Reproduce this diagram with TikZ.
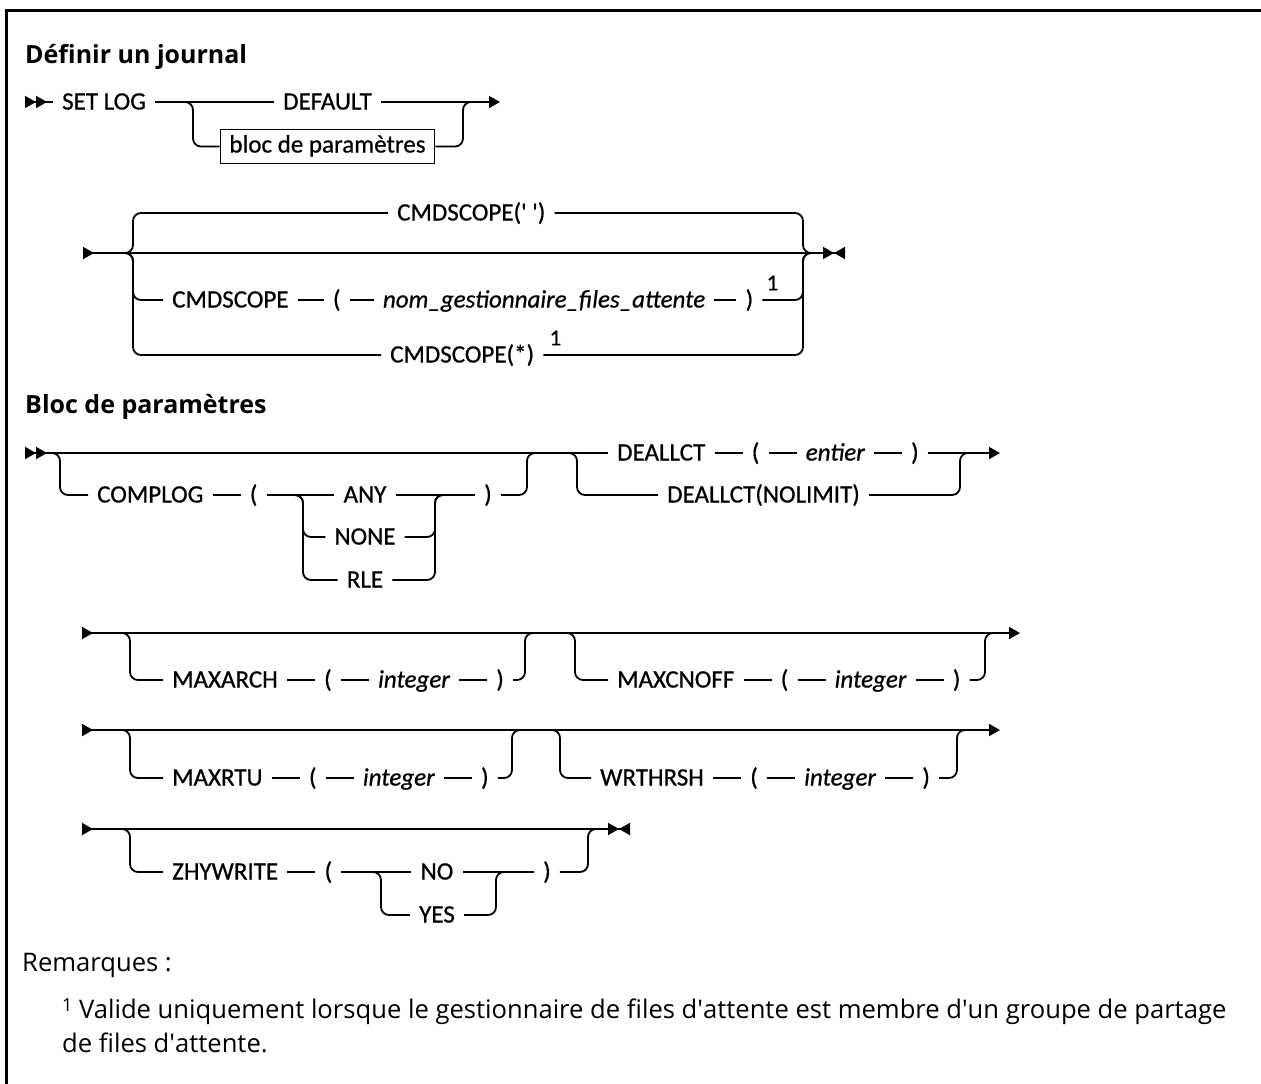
\documentclass[tikz,border=0pt]{standalone}
\usepackage{fontspec}
\setmainfont{Open Sans}
\newfontfamily\railfont{Carlito}[FakeBold=0.7]
\usetikzlibrary{positioning, arrows.meta}

\tikzset{
  kw/.style={font=\railfont\fontsize{25}{29}\selectfont, inner xsep=9pt, inner ysep=0pt, text height=15pt, text depth=0pt},
  vr/.style={kw, font=\railfont\itshape\fontsize{25}{29}\selectfont},
  fnum/.style={font=\railfont\fontsize{23}{23}\selectfont, inner sep=0pt},
  rail/.style={line width=1.8pt, rounded corners=8pt},
  hdg/.style={font=\bfseries\fontsize{25}{30}\selectfont, anchor=base west, inner sep=0pt},
  txt/.style={font=\fontsize{25.6}{30}\selectfont, anchor=base west, inner sep=0pt},
  blocbox/.style={kw, draw, line width=1.8pt, minimum width=209pt, minimum height=34pt, text height=16pt, text depth=4pt},
  arr begin/.style={{Triangle[length=11pt,width=12pt,reversed]Triangle[length=11pt,width=12pt,reversed]}-},
  arr cont/.style={{Triangle[length=11pt,width=12pt,reversed]}-{Triangle[length=11pt,width=12pt]}},
  arr next/.style={-{Triangle[length=11pt,width=12pt]}},
  arr cont stop/.style={{Triangle[length=11pt,width=12pt,reversed]}-{Triangle[length=11pt,width=12pt]Triangle[length=11pt,width=12pt,reversed]}},
}

\begin{document}
\begin{tikzpicture}[x=1pt, y=-1pt]
  \useasboundingbox (0,0) rectangle (1261,1084);
  \draw[line width=3pt] (6,1084) -- (6,10) -- (1261,10);

  % Definir un journal
  \node[hdg] (t1) at (25,63) {Définir un journal};

  \coordinate (r1s) at (25,102);
  \coordinate (r1j) at (193,102);
  \coordinate (r1k) at (463,102);
  \coordinate (r1e) at (500,102);
  \node[kw, anchor=west] (setlog) at (53,102) {SET LOG};
  \node[kw, anchor=west] (default) at (274,102) {DEFAULT};
  \node[blocbox] (bloc) at (327.5,146.5) {bloc de paramètres};
  \draw[rail, arr begin] (r1s) -- (setlog);
  \draw[rail] (setlog) -- (default);
  \draw[rail, arr next] (default) -- (r1e);
  \draw[rail] (setlog.east) -- (r1j) |- (bloc.west);
  \draw[rail] (bloc.east) -| (r1k) -- ++(12,0);

  % CMDSCOPE
  \coordinate (r2s) at (83,253);
  \coordinate (r2j) at (133,253);
  \coordinate (r2k) at (803,253);
  \coordinate (r2e) at (845,253);
  \node[kw, anchor=west] (cs1) at (388,213) {CMDSCOPE(\textquotesingle\ \textquotesingle)};
  \node[kw, anchor=west] (cs2) at (163,300) {CMDSCOPE};
  \node[kw, right=26pt of cs2] (lp2) {(};
  \node[vr, right=24pt of lp2] (qm) {nom\_gestionnaire\_files\_attente};
  \node[kw, right=22pt of qm] (rp2) {)};
  \node[fnum, right=4pt of rp2, yshift=17pt] (n2) {1};
  \node[kw, anchor=west] (cs3) at (381,355) {CMDSCOPE(*)};
  \node[fnum, right=6pt of cs3, yshift=17pt] (n3) {1};
  \draw[rail, arr cont stop] (r2s) -- (r2e);
  \draw[rail] ([xshift=-12pt]r2j) -- (r2j) |- (cs1.west);
  \draw[rail] (cs1.east) -| (r2k) -- ++(12,0);
  \draw[rail] ([xshift=-12pt]r2j) -- (r2j) |- (cs2.west);
  \draw[rail] (cs2) -- (lp2) -- (qm) -- (rp2);
  \draw[rail] (rp2.east) -| (r2k) -- ++(12,0);
  \draw[rail] ([xshift=-12pt]r2j) -- (r2j) |- (cs3.west);
  \draw[rail] (cs3.east) -| (r2k) -- ++(12,0);

  % Bloc de parametres
  \node[hdg] (t2) at (25,413) {Bloc de paramètres};

  \coordinate (r3s) at (25,453);
  \coordinate (r3j) at (60,453);
  \coordinate (r3p) at (303,495);
  \coordinate (r3q) at (435,495);
  \coordinate (r3k) at (527,453);
  \coordinate (r3m) at (577,453);
  \coordinate (r3r) at (960,453);
  \coordinate (r3e) at (1000,453);
  \node[kw, anchor=west] (cl) at (88,495) {COMPLOG};
  \node[kw, right=28pt of cl] (lp3) {(};
  \node[kw] (any) at (365,495) {ANY};
  \node[kw] (none) at (365,537) {NONE};
  \node[kw] (rle) at (365,580) {RLE};
  \node[kw, anchor=west] (rp3) at (475,495) {)};
  \node[kw, anchor=west] (dl) at (608,453) {DEALLCT};
  \node[kw, right=28pt of dl] (lp4) {(};
  \node[vr, right=28pt of lp4] (ent) {entier};
  \node[kw, right=28pt of ent] (rp4) {)};
  \node[kw, anchor=west] (dln) at (658,495) {DEALLCT(NOLIMIT)};
  \draw[rail, arr begin] (r3s) -- (dl);
  \draw[rail] ([xshift=-12pt]r3j) -- (r3j) |- (cl.west);
  \draw[rail] (cl) -- (lp3) -- (any) -- (rp3);
  \draw[rail] ([xshift=-12pt]r3p) -- (r3p) |- (none.west);
  \draw[rail] (none.east) -| (r3q) -- ++(12,0);
  \draw[rail] ([xshift=-12pt]r3p) -- (r3p) |- (rle.west);
  \draw[rail] (rle.east) -| (r3q) -- ++(12,0);
  \draw[rail] (rp3.east) -| (r3k) -- ++(12,0);
  \draw[rail] (dl) -- (lp4) -- (ent) -- (rp4);
  \draw[rail, arr next] (rp4) -- (r3e);
  \draw[rail] ([xshift=-12pt]r3m) -- (r3m) |- (dln.west);
  \draw[rail] (dln.east) -| (r3r) -- ++(12,0);

  % MAXARCH / MAXCNOFF
  \coordinate (r4s) at (82,633);
  \coordinate (r4j) at (130,633);
  \coordinate (r4k) at (525,633);
  \coordinate (r4m) at (575,633);
  \coordinate (r4r) at (985,633);
  \coordinate (r4e) at (1020,633);
  \node[kw, anchor=west] (ma) at (163,680) {MAXARCH};
  \node[kw, right=28pt of ma] (lp5) {(};
  \node[vr, right=28pt of lp5] (int5) {integer};
  \node[kw, right=28pt of int5] (rp5) {)};
  \node[kw, anchor=west] (mc) at (608,680) {MAXCNOFF};
  \node[kw, right=28pt of mc] (lp6) {(};
  \node[vr, right=28pt of lp6] (int6) {integer};
  \node[kw, right=28pt of int6] (rp6) {)};
  \draw[rail, arr cont] (r4s) -- (r4e);
  \draw[rail] ([xshift=-12pt]r4j) -- (r4j) |- (ma.west);
  \draw[rail] (ma) -- (lp5) -- (int5) -- (rp5);
  \draw[rail] (rp5.east) -| (r4k) -- ++(12,0);
  \draw[rail] ([xshift=-12pt]r4m) -- (r4m) |- (mc.west);
  \draw[rail] (mc) -- (lp6) -- (int6) -- (rp6);
  \draw[rail] (rp6.east) -| (r4r) -- ++(12,0);

  % MAXRTU / WRTHRSH
  \coordinate (r5s) at (82,730);
  \coordinate (r5j) at (130,730);
  \coordinate (r5k) at (512,730);
  \coordinate (r5m) at (560,730);
  \coordinate (r5r) at (957,730);
  \coordinate (r5e) at (1000,730);
  \node[kw, anchor=west] (mr) at (163,778) {MAXRTU};
  \node[kw, right=28pt of mr] (lp7) {(};
  \node[vr, right=28pt of lp7] (int7) {integer};
  \node[kw, right=28pt of int7] (rp7) {)};
  \node[kw, anchor=west] (wr) at (591,778) {WRTHRSH};
  \node[kw, right=28pt of wr] (lp8) {(};
  \node[vr, right=28pt of lp8] (int8) {integer};
  \node[kw, right=28pt of int8] (rp8) {)};
  \draw[rail, arr cont] (r5s) -- (r5e);
  \draw[rail] ([xshift=-12pt]r5j) -- (r5j) |- (mr.west);
  \draw[rail] (mr) -- (lp7) -- (int7) -- (rp7);
  \draw[rail] (rp7.east) -| (r5k) -- ++(12,0);
  \draw[rail] ([xshift=-12pt]r5m) -- (r5m) |- (wr.west);
  \draw[rail] (wr) -- (lp8) -- (int8) -- (rp8);
  \draw[rail] (rp8.east) -| (r5r) -- ++(12,0);

  % ZHYWRITE
  \coordinate (r6s) at (82,829);
  \coordinate (r6j) at (130,829);
  \coordinate (r6p) at (381,872);
  \coordinate (r6q) at (496,872);
  \coordinate (r6k) at (588,829);
  \coordinate (r6e) at (630,829);
  \node[kw, anchor=west] (zw) at (163,872) {ZHYWRITE};
  \node[kw, right=28pt of zw] (lp9) {(};
  \node[kw] (no) at (437,872) {NO};
  \node[kw] (yes) at (437,915) {YES};
  \node[kw, anchor=west] (rp9) at (534,872) {)};
  \draw[rail, arr cont stop] (r6s) -- (r6e);
  \draw[rail] ([xshift=-12pt]r6j) -- (r6j) |- (zw.west);
  \draw[rail] (zw) -- (lp9) -- (no) -- (rp9);
  \draw[rail] ([xshift=-12pt]r6p) -- (r6p) |- (yes.west);
  \draw[rail] (yes.east) -| (r6q) -- ++(12,0);
  \draw[rail] (rp9.east) -| (r6k) -- ++(12,0);

  % notes
  \node[txt] (rem) at (22,971) {Remarques :};
  \node[txt] (fn1) at (62,1018) {\raisebox{7pt}{\fontsize{18}{18}\selectfont 1} Valide uniquement lorsque le gestionnaire de files d\textquotesingle attente est membre d\textquotesingle un groupe de partage};
  \node[txt] (fn2) at (62,1052) {de files d\textquotesingle attente.};
\end{tikzpicture}
\end{document}
